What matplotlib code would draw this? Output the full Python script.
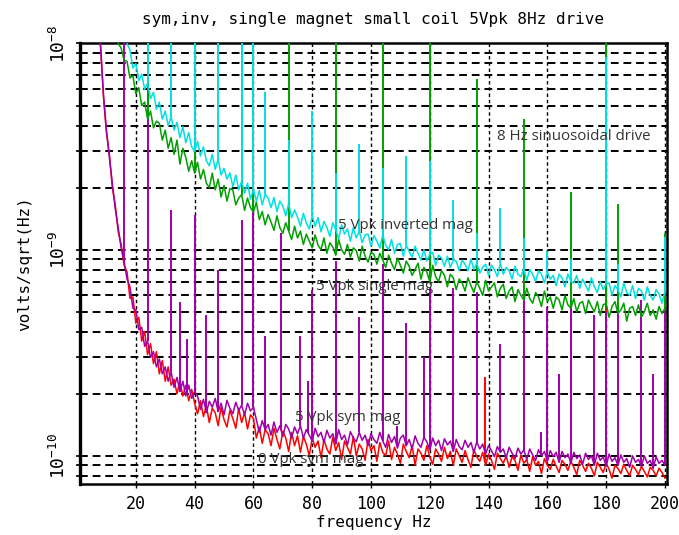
import numpy as np
import matplotlib
matplotlib.use('Agg')
import matplotlib.pyplot as plt
from matplotlib.ticker import LogLocator, FixedLocator, NullFormatter

plt.rcParams['font.family'] = ['DejaVu Sans Mono']
plt.rcParams['mathtext.fontset'] = 'custom'
plt.rcParams['mathtext.rm'] = 'DejaVu Sans Mono'
plt.rcParams['mathtext.it'] = 'DejaVu Sans Mono'
plt.rcParams['mathtext.default'] = 'rm'

# ---------------- data (values in units of 1e-10 V/sqrt(Hz), 1 Hz bins) ----------------
UNIT = 1e-10

red_start = 7   # 0 Vpk sym mag
red_vals = [130, 98, 55, 37, 29, 20, 16.5, 12.2, 10.6, 8.4,
            7.8, 5.8, 5.9, 4.4, 4.7, 3.6, 4.0, 3.1, 3.5, 2.8,
            3.2, 2.5, 2.9, 2.3, 2.7, 2.2, 2.35, 2.0, 2.3, 1.95,
            2.2, 1.85, 2.1, 1.8, 1.6, 1.85, 1.55, 1.75, 1.45, 1.7,
            1.62, 1.4, 1.72, 1.5, 1.38, 1.66, 1.52, 1.36, 1.7, 1.45,
            1.62, 1.35, 1.58, 1.52, 1.22, 1.38, 1.15, 1.34, 1.28, 1.12,
            1.36, 1.2, 1.08, 1.32, 1.22, 1.05, 1.3, 1.12, 1.25, 1.04,
            1.24, 1.14, 1.0, 1.22, 1.1, 1.18, 0.98, 1.2, 1.08, 1.02,
            1.23, 1.06, 1.16, 0.96, 1.18, 1.1, 1.02, 1.24, 1.0, 1.14,
            1.08, 0.95, 1.2, 1.06, 1.12, 0.94, 1.16, 1.04, 1.0, 1.18,
            0.96, 1.1, 1.02, 0.92, 1.14, 1.05, 0.98, 1.12, 0.9, 1.08,
            1.03, 0.95, 1.12, 0.99, 0.91, 1.08, 1.02, 0.94, 1.1, 0.97,
            1.05, 0.9, 1.08, 1.0, 0.93, 1.06, 0.96, 0.88, 1.07, 0.99,
            0.94, 1.04, 0.9, 1.02, 0.95, 0.86, 1.03, 0.97, 0.92, 1.0,
            0.88, 0.99, 0.95, 0.85, 1.01, 0.92, 0.96, 0.84, 0.99, 0.9,
            0.94, 0.82, 0.97, 0.9, 0.86, 0.96, 0.89, 0.83, 0.95, 0.91,
            0.85, 0.94, 0.88, 0.81, 0.95, 0.9, 0.84, 0.92, 0.87, 0.8,
            0.93, 0.88, 0.83, 0.92, 0.86, 0.78, 0.9, 0.87, 0.82, 0.91,
            0.85, 0.8, 0.9, 0.86, 0.81, 0.89, 0.84, 0.79, 0.88, 0.85,
            0.8, 0.87, 0.83, 0.78]
red_spike_f = [138.7, 180]
red_spike_v = [2.4, 34]

mag_start = 7   # 5 Vpk sym mag
mag_vals = [128, 96, 56, 38, 28, 21, 15.8, 12.8, 10.2, 8.8,
            7.2, 6.6, 5.2, 5.1, 4.1, 4.2, 3.4, 3.6, 3.0, 3.2,
            2.7, 2.95, 2.5, 2.7, 2.3, 2.55, 2.15, 2.4, 2.05, 2.3,
            1.95, 2.2, 1.9, 2.05, 1.95, 1.68, 1.88, 1.62, 1.84, 1.72,
            1.9, 1.64, 1.8, 1.58, 1.86, 1.7, 1.6, 1.82, 1.66, 1.76,
            1.58, 1.8, 1.65, 1.72, 1.5, 1.3, 1.48, 1.34, 1.42, 1.26,
            1.46, 1.3, 1.4, 1.24, 1.42, 1.35, 1.22, 1.38, 1.28, 1.4,
            1.22, 1.34, 1.26, 1.18, 1.36, 1.24, 1.3, 1.16, 1.33, 1.22,
            1.28, 1.14, 1.34, 1.2, 1.26, 1.13, 1.31, 1.22, 1.17, 1.3,
            1.19, 1.26, 1.12, 1.28, 1.2, 1.15, 1.3, 1.18, 1.1, 1.27,
            1.16, 1.24, 1.09, 1.22, 1.26, 1.12, 1.2, 1.08, 1.25, 1.15,
            1.1, 1.23, 1.17, 1.07, 1.22, 1.12, 1.19, 1.06, 1.21, 1.13,
            1.18, 1.05, 1.2, 1.11, 1.07, 1.19, 1.1, 1.16, 1.04, 1.17,
            1.08, 1.14, 1.02, 1.12, 1.06, 0.99, 1.11, 1.04, 1.08, 0.98,
            1.1, 1.03, 0.97, 1.09, 1.02, 1.07, 0.96, 1.08, 1.01, 0.95,
            1.07, 1.0, 1.05, 0.94, 1.06, 0.99, 1.04, 0.93, 1.05, 0.98,
            1.02, 0.92, 1.04, 0.97, 1.01, 0.91, 1.03, 0.96, 1.0, 0.9,
            1.03, 0.95, 0.99, 0.89, 1.02, 0.94, 0.98, 0.9, 1.01, 0.93,
            0.97, 0.88, 1.0, 0.93, 0.96, 0.89, 1.0, 0.92, 0.95, 0.87,
            0.99, 0.92, 0.95, 0.9]
mag_spike_f = [16, 24, 32, 35, 37.3, 40, 44, 48, 56, 60, 64, 69.4, 76, 78.7, 80,
               88, 96, 104, 108.8, 112, 118.2, 120, 128, 136, 144, 152, 157.8,
               160, 164, 168, 176, 180, 184, 192, 196, 200]
mag_spike_v = [150, 150, 15.6, 5.6, 3.7, 14.8, 4.8, 8.0, 14, 18.5, 3.8, 12, 3.8, 2.3, 6.4,
               8.8, 4.7, 8.5, 1.4, 4.4, 3.0, 6.5, 6.5, 6.2, 3.5, 5.85, 1.3,
               5.3, 2.5, 5.7, 4.8, 5.0, 4.9, 5.7, 2.5, 5.3]

grn_start = 13  # 5 Vpk single mag
grn_vals = [115, 100, 95, 83, 82, 68, 70, 57, 61, 50,
            52, 43, 47, 39, 42, 41, 34, 38, 31, 35,
            29, 34, 26, 31, 28, 24, 27, 23.5, 26.5, 22,
            24.5, 21, 20, 23.5, 19.5, 22, 18, 20.5, 17.2, 19.8,
            19.5, 16.5, 17.8, 18.5, 15.5, 17.8, 16, 15.2, 17, 14,
            15.3, 13.2, 14.8, 13.6, 12.4, 14.6, 12.8, 12.0, 13.5, 12.3,
            11.2, 13.0, 11.4, 12.3, 10.6, 11.9, 11.0, 10.2, 11.8, 10.5,
            10.0, 11.4, 9.6, 10.8, 10.3, 9.4, 11.2, 10.0, 9.5, 10.6,
            9.2, 10.2, 9.9, 8.8, 10.4, 9.3, 8.7, 9.7, 9.5, 8.5,
            9.6, 8.9, 8.2, 9.4, 8.6, 8.0, 9.1, 8.4, 7.7, 8.8,
            8.3, 7.5, 8.0, 8.6, 7.2, 8.2, 7.8, 7.0, 8.4, 7.4,
            7.0, 7.9, 7.5, 6.6, 7.6, 7.3, 6.4, 7.2, 6.9, 6.3,
            7.3, 6.7, 6.2, 7.0, 6.5, 6.0, 7.1, 6.3, 6.6, 6.9,
            5.9, 6.5, 6.8, 5.8, 6.3, 6.6, 5.6, 6.4, 6.0, 5.7,
            6.5, 5.8, 5.5, 6.2, 5.9, 5.3, 6.3, 5.6, 5.9, 5.2,
            5.9, 5.7, 5.1, 6.0, 5.4, 5.2, 5.8, 5.0, 5.5, 5.6,
            4.9, 5.7, 5.3, 5.0, 5.6, 4.8, 5.4, 5.5, 4.7, 5.3,
            5.6, 4.9, 5.1, 5.5, 4.5, 5.2, 5.3, 4.8, 5.4, 4.7,
            5.0, 5.5, 4.8, 5.1, 4.6, 5.3, 4.9, 5.2]
grn_spike_f = [24, 40, 56, 60, 72, 88, 104, 120, 136, 152, 168, 180, 184, 200]
grn_spike_v = [150, 150, 150, 150, 150, 150, 150, 150, 67, 43, 19, 150, 16.7, 12]

cyn_start = 16  # 5 Vpk inverted mag
cyn_vals = [118, 100, 93, 76, 80, 66, 71, 60, 64, 54,
            58, 48, 52, 43, 47, 40, 44, 38, 41.5, 35,
            39.5, 33, 37, 31.5, 30, 33.5, 28.5, 31.5, 27, 25.5,
            29, 24.5, 27.5, 23, 24.8, 22, 23.6, 20.2, 23, 19.5,
            21.5, 18.8, 21, 17.6, 19.6, 17.2, 19.4, 16.5, 18.6, 17.8,
            16.0, 17.9, 15.3, 17.2, 16.3, 14.6, 16.8, 14.3, 15.6, 14.4,
            13.0, 15.0, 13.5, 12.6, 14.6, 13.0, 14.3, 12.2, 13.7, 12.8,
            11.6, 13.5, 12.5, 11.3, 13.2, 11.9, 12.6, 11.0, 12.8, 11.4,
            12.3, 10.8, 11.8, 11.9, 10.4, 11.7, 11.0, 10.2, 11.8, 10.5,
            10.0, 11.2, 9.6, 10.6, 10.7, 9.3, 10.5, 9.8, 9.2, 10.4,
            9.6, 8.9, 10.0, 8.8, 9.5, 9.7, 8.4, 9.4, 9.1, 8.3,
            9.3, 8.2, 8.9, 8.8, 7.9, 8.9, 8.5, 7.9, 9.0, 8.0,
            8.6, 7.7, 8.2, 8.5, 7.5, 8.4, 8.0, 7.4, 8.6, 7.6,
            8.2, 7.9, 7.2, 8.3, 7.6, 7.4, 8.1, 7.1, 8.0, 7.6,
            7.0, 7.9, 7.6, 6.9, 7.8, 7.2, 7.5, 6.7, 7.6, 7.3,
            6.6, 7.6, 7.0, 6.9, 7.5, 6.5, 7.2, 6.7, 6.3, 7.3,
            6.6, 6.2, 7.0, 6.4, 6.8, 6.9, 6.0, 6.7, 6.4, 5.9,
            6.9, 6.2, 6.0, 6.7, 5.8, 6.5, 6.3, 5.7, 6.6, 6.0,
            5.7, 6.4, 6.1, 5.5, 6.3]
cyn_spike_f = [24, 32, 40, 48, 56, 60, 64, 72, 80, 88, 96, 104, 112, 120, 128, 136,
               144, 152, 160, 168, 180, 184, 200]
cyn_spike_v = [150, 150, 150, 150, 150, 150, 58, 34, 47, 23.6, 32.7, 25, 28.6, 27, 17.5, 12,
               16, 11.4, 9.8, 9.0, 86, 8.5, 11.5]

x_ticks = [20, 40, 60, 80, 100, 120, 140, 160, 180, 200]
y_ticks = [1e-10, 1e-9, 1e-8]
y_ticklabels = [r'$10^{-10}$', r'$10^{-9}$', r'$10^{-8}$']

labels = [("8 Hz sinuosoidal drive", 142.9, 3.54e-9),
          ("5 Vpk inverted mag", 88.8, 1.31e-9),
          ("5 Vpk single mag", 81.3, 6.64e-10),
          ("5 Vpk sym mag", 74.2, 1.54e-10),
          ("0 Vpk sym mag", 61.6, 9.6e-11)]

# ---------------- figure ----------------
fig = plt.figure(figsize=(6.79, 5.35), dpi=100)
ax = fig.add_axes([0.1178, 0.0953, 0.8645, 0.8234])

series = [
    (red_start, red_vals, red_spike_f, red_spike_v, '#ff0000'),
    (mag_start, mag_vals, mag_spike_f, mag_spike_v, '#a000a8'),
    (grn_start, grn_vals, grn_spike_f, grn_spike_v, '#00a000'),
    (cyn_start, cyn_vals, cyn_spike_f, cyn_spike_v, '#00e0e0'),
]
for z, (start, vals, sf, sv, col) in enumerate(series):
    f = np.arange(start, start + len(vals))
    v = np.array(vals) * UNIT
    ax.plot(f, v, color=col, lw=1.1, zorder=3 + z)
    sf = np.array(sf, dtype=float)
    base = np.interp(sf, f, v)
    ax.vlines(sf, base, np.array(sv) * UNIT, color=col, lw=1.4, zorder=3 + z)

ax.set_yscale('log')
ax.set_xlim(1.0, 200.7)
ax.set_ylim(7.3e-11, 1e-8)

ax.yaxis.set_major_locator(FixedLocator(y_ticks))
ax.yaxis.set_minor_locator(LogLocator(base=10, subs=range(2, 10)))
ax.yaxis.set_minor_formatter(NullFormatter())
ax.set_yticklabels(y_ticklabels, rotation=90, va='center', fontsize=13)
ax.set_xticks(x_ticks)
ax.set_xticklabels([str(t) for t in x_ticks], fontsize=12)

ax.yaxis.grid(True, which='both', color='k', ls=(0, (4, 2.5)), lw=1.4, zorder=1)
ax.xaxis.grid(True, which='major', color='k', ls=(0, (2.5, 2)), lw=1.0, zorder=1)
ax.set_axisbelow(True)

ax.tick_params(axis='y', which='both', direction='out', length=3, width=1.2, pad=5)
ax.tick_params(axis='x', which='both', direction='out', length=3, width=1.0, pad=5)
for s in ax.spines.values():
    s.set_linewidth(1.8)
ax.spines['left'].set_linewidth(2.4)

ax.set_title('sym,inv, single magnet small coil 5Vpk 8Hz drive', fontsize=11.5, pad=14)
ax.set_xlabel('frequency Hz', fontsize=11.5, labelpad=1)
ax.set_ylabel('volts/sqrt(Hz)', fontsize=11.5, labelpad=12)

for txt, xf, yv in labels:
    ax.text(xf, yv, txt, fontfamily=['Open Sans', 'DejaVu Sans'], fontsize=10.8,
            color='#333333', ha='left', va='center', zorder=20)

fig.savefig('out.png', dpi=100)
